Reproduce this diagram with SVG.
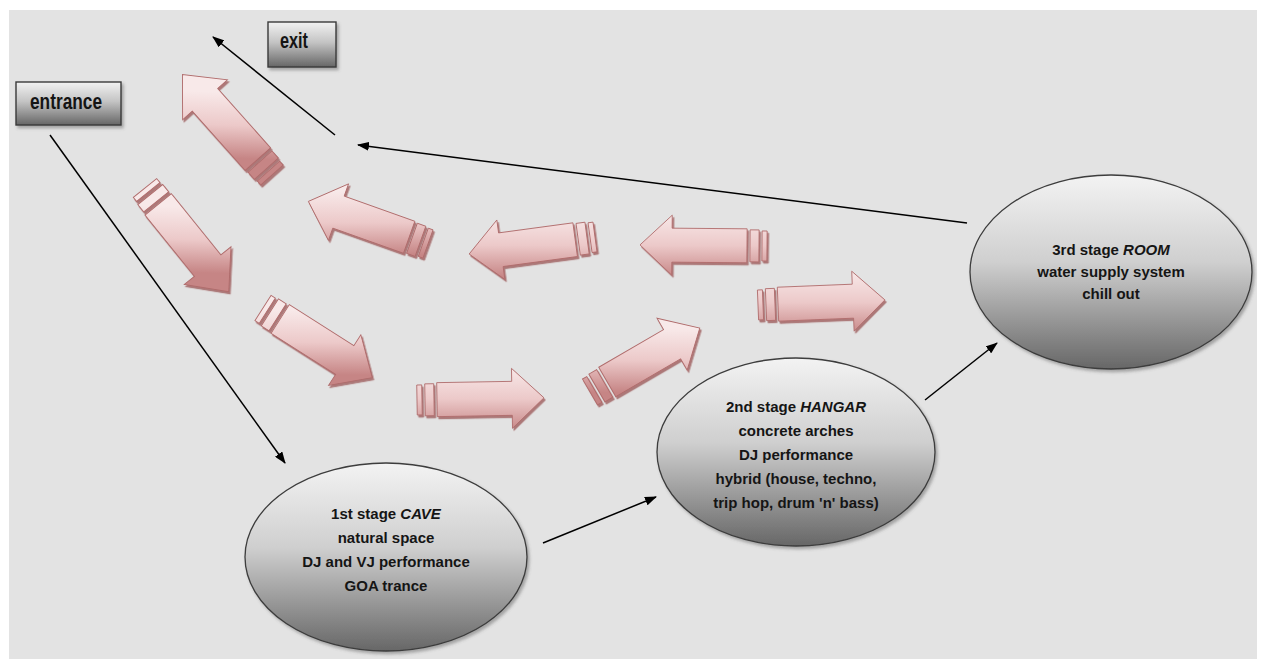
<svg xmlns="http://www.w3.org/2000/svg" width="1262" height="659" viewBox="0 0 1262 659">
  <style>
    .box { stroke: #3a3a3a; stroke-width: 1.4; fill: url(#boxFill); }
    .boxLabel { font-family: "Liberation Sans", Arial, sans-serif; font-weight: bold; font-size: 22px; fill: #141414; }
    .stage { stroke: #3c3c3c; stroke-width: 1.3; fill: url(#stageFill); }
    .stageText { font-family: "Liberation Sans", Arial, sans-serif; font-weight: bold; font-size: 15px; fill: #151515; text-anchor: middle; }
    .flow { stroke: #000; stroke-width: 1.5; fill: none; marker-end: url(#head); }
    .pink { stroke: #b06c6c; stroke-width: 0.9; stroke-linejoin: miter; }
  </style>
  <defs>
    <linearGradient id="boxFill" x1="0" y1="0" x2="0" y2="1">
      <stop offset="0" stop-color="#f2f2f2"/>
      <stop offset="0.45" stop-color="#c4c4c4"/>
      <stop offset="1" stop-color="#666"/>
    </linearGradient>
    <linearGradient id="stageFill" x1="0" y1="0" x2="0" y2="1">
      <stop offset="0" stop-color="#f3f3f3"/>
      <stop offset="0.45" stop-color="#cfcfcf"/>
      <stop offset="1" stop-color="#676767"/>
    </linearGradient>
    <!-- pink ramp shared by the block arrows; each arrow counter-rotates it so light stays on top -->
    <linearGradient id="pinkRamp">
      <stop offset="0" stop-color="#f8e9e9"/>
      <stop offset="0.5" stop-color="#ecc9c9"/>
      <stop offset="1" stop-color="#c68585"/>
    </linearGradient>
    <linearGradient id="ga1" href="#pinkRamp" gradientUnits="userSpaceOnUse" x1="63" y1="-32" x2="63" y2="32" gradientTransform="rotate(-228.3 63 0)"/>
    <linearGradient id="ga2" href="#pinkRamp" gradientUnits="userSpaceOnUse" x1="63" y1="-32" x2="63" y2="32" gradientTransform="rotate(-51.1 63 0)"/>
    <linearGradient id="ga3" href="#pinkRamp" gradientUnits="userSpaceOnUse" x1="63" y1="-32" x2="63" y2="32" gradientTransform="rotate(-32.5 63 0)"/>
    <linearGradient id="ga4" href="#pinkRamp" gradientUnits="userSpaceOnUse" x1="63" y1="-32" x2="63" y2="32" gradientTransform="rotate(1 63 0)"/>
    <linearGradient id="ga5" href="#pinkRamp" gradientUnits="userSpaceOnUse" x1="63" y1="-32" x2="63" y2="32" gradientTransform="rotate(30.2 63 0)"/>
    <linearGradient id="ga6" href="#pinkRamp" gradientUnits="userSpaceOnUse" x1="63" y1="-32" x2="63" y2="32" gradientTransform="rotate(2.3 63 0)"/>
    <linearGradient id="ga7" href="#pinkRamp" gradientUnits="userSpaceOnUse" x1="63" y1="-32" x2="63" y2="32" gradientTransform="rotate(-180.5 63 0)"/>
    <linearGradient id="ga8" href="#pinkRamp" gradientUnits="userSpaceOnUse" x1="63" y1="-32" x2="63" y2="32" gradientTransform="rotate(-172.3 63 0)"/>
    <linearGradient id="ga9" href="#pinkRamp" gradientUnits="userSpaceOnUse" x1="63" y1="-32" x2="63" y2="32" gradientTransform="rotate(-199.6 63 0)"/>

    <!-- block arrow: two tail bands, shaft, head; tail at origin, pointing +x -->
    <g id="pinkArrow" class="pink">
      <rect x="0" y="-15" width="5" height="30"/>
      <rect x="8" y="-16" width="9" height="32"/>
      <polygon points="20,-17 95,-17 95,-30 127,0 95,30 95,17 20,17"/>
    </g>

    <filter id="pinkShadow" x="-20%" y="-20%" width="140%" height="140%">
      <feDropShadow dx="1.5" dy="2.2" stdDeviation="0.7" flood-color="#9a5454" flood-opacity="0.75"/>
    </filter>
    <filter id="softShadow" x="-10%" y="-10%" width="125%" height="130%">
      <feDropShadow dx="2" dy="2.5" stdDeviation="1.8" flood-color="#555" flood-opacity="0.45"/>
    </filter>

    <marker id="head" markerUnits="userSpaceOnUse" markerWidth="12" markerHeight="9" refX="11" refY="4.5" orient="auto">
      <path d="M0,0 L12,4.5 L0,9 Z" fill="#000"/>
    </marker>
  </defs>

  <!-- canvas -->
  <rect x="0" y="0" width="1262" height="659" fill="#fff"/>
  <rect x="9" y="10" width="1248" height="649" fill="#e3e3e3"/>

  <!-- block arrows tracing the route -->
  <g id="route-arrows">
    <g id="arrow-1" filter="url(#pinkShadow)"><use href="#pinkArrow" fill="url(#ga1)" transform="translate(272,175) rotate(228.3) scale(1.06,1)"/></g>
    <g id="arrow-2" filter="url(#pinkShadow)"><use href="#pinkArrow" fill="url(#ga2)" transform="translate(145,188) rotate(51.1) scale(1.05,1)"/></g>
    <g id="arrow-3" filter="url(#pinkShadow)"><use href="#pinkArrow" fill="url(#ga3)" transform="translate(263,308) rotate(32.5) scale(1.02,1)"/></g>
    <g id="arrow-4" filter="url(#pinkShadow)"><use href="#pinkArrow" fill="url(#ga4)" transform="translate(417,400) rotate(-1)"/></g>
    <g id="arrow-5" filter="url(#pinkShadow)"><use href="#pinkArrow" fill="url(#ga5)" transform="translate(590,392) rotate(-30.2)"/></g>
    <g id="arrow-6" filter="url(#pinkShadow)"><use href="#pinkArrow" fill="url(#ga6)" transform="translate(758,305) rotate(-2.3)"/></g>
    <g id="arrow-7" filter="url(#pinkShadow)"><use href="#pinkArrow" fill="url(#ga7)" transform="translate(767,246) rotate(180.5)"/></g>
    <g id="arrow-8" filter="url(#pinkShadow)"><use href="#pinkArrow" fill="url(#ga8)" transform="translate(595,237) rotate(172.3)"/></g>
    <g id="arrow-9" filter="url(#pinkShadow)"><use href="#pinkArrow" fill="url(#ga9)" transform="translate(428,244) rotate(199.6)"/></g>
  </g>

  <!-- connectors -->
  <g id="connectors">
    <path class="flow" d="M50,135 L285,463"/>
    <path class="flow" d="M543,543 L656,497"/>
    <path class="flow" d="M925,400 L997,343"/>
    <path class="flow" d="M967,223 L358,145"/>
    <path class="flow" d="M335,135 L213,37"/>
  </g>

  <!-- nodes -->
  <g id="entrance">
    <rect class="box" x="16" y="82" width="105" height="43" filter="url(#softShadow)"/>
    <text class="boxLabel" x="30" y="109" textLength="72" lengthAdjust="spacingAndGlyphs">entrance</text>
  </g>

  <g id="exit">
    <rect class="box" x="268" y="22" width="68" height="45" filter="url(#softShadow)"/>
    <text class="boxLabel" x="280" y="48" textLength="28" lengthAdjust="spacingAndGlyphs">exit</text>
  </g>

  <g id="stage-cave">
    <ellipse class="stage" cx="386" cy="557" rx="141" ry="94" filter="url(#softShadow)"/>
    <text class="stageText" x="386" y="519">1st stage <tspan font-style="italic">CAVE</tspan></text>
    <text class="stageText" x="386" y="543">natural space</text>
    <text class="stageText" x="386" y="567">DJ and VJ performance</text>
    <text class="stageText" x="386" y="591">GOA trance</text>
  </g>

  <g id="stage-hangar">
    <ellipse class="stage" cx="796" cy="452" rx="139" ry="94" filter="url(#softShadow)"/>
    <text class="stageText" x="796" y="412">2nd stage <tspan font-style="italic">HANGAR</tspan></text>
    <text class="stageText" x="796" y="436">concrete arches</text>
    <text class="stageText" x="796" y="460">DJ performance</text>
    <text class="stageText" x="796" y="484">hybrid (house, techno,</text>
    <text class="stageText" x="796" y="508">trip hop, drum 'n' bass)</text>
  </g>

  <g id="stage-room">
    <ellipse class="stage" cx="1111" cy="272" rx="141" ry="97" filter="url(#softShadow)"/>
    <text class="stageText" x="1111" y="255">3rd stage <tspan font-style="italic">ROOM</tspan></text>
    <text class="stageText" x="1111" y="277">water supply system</text>
    <text class="stageText" x="1111" y="299">chill out</text>
  </g>
</svg>
